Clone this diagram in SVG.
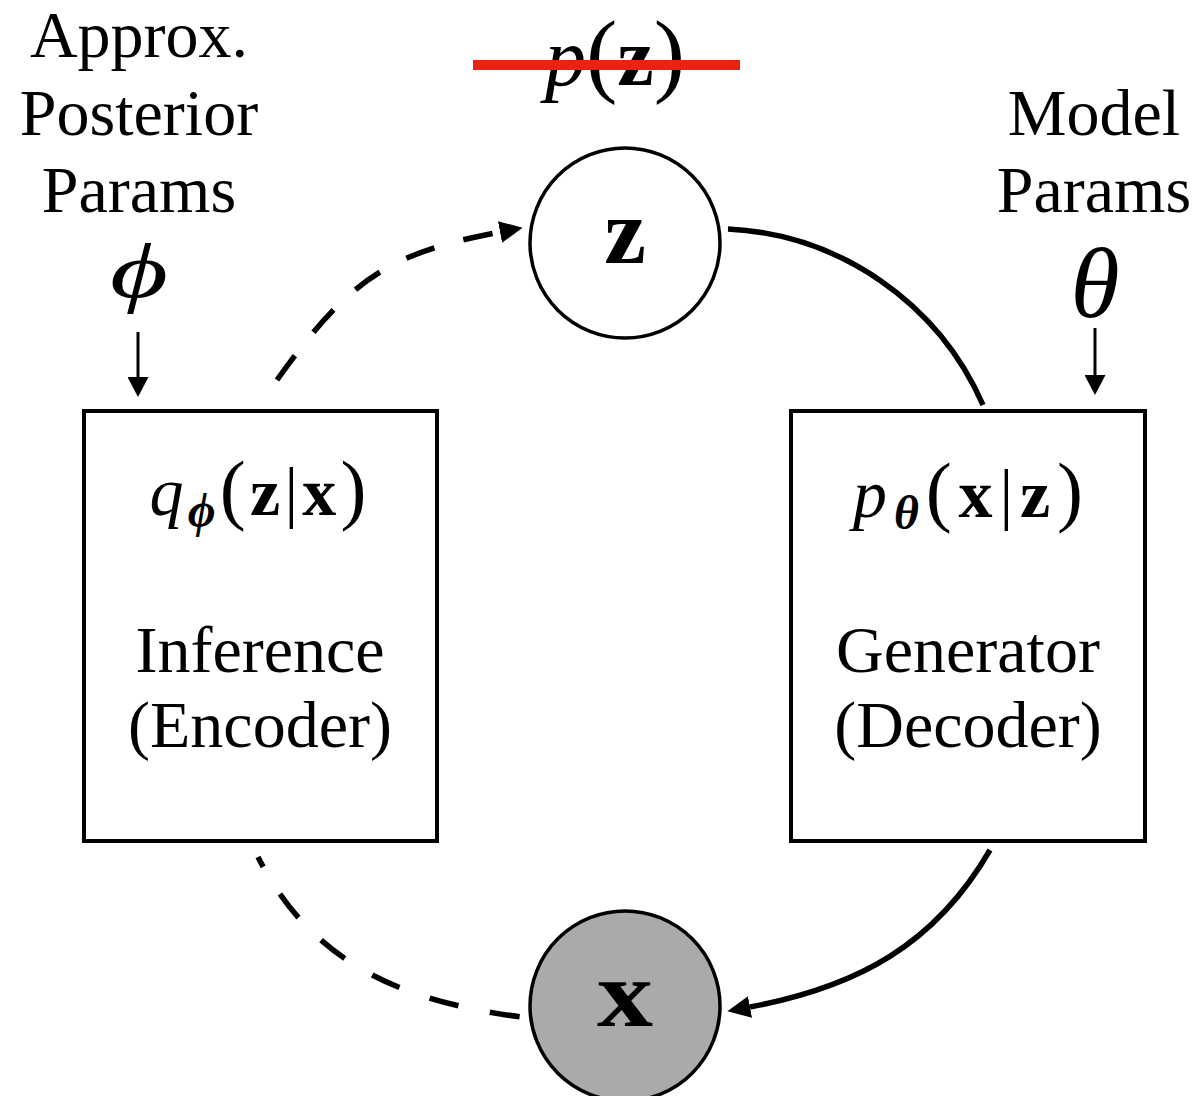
<svg xmlns="http://www.w3.org/2000/svg" width="1198" height="1096" viewBox="0 0 1198 1096">
<style>
text{font-family:"Liberation Serif","DejaVu Serif",serif;fill:#000}
.lbl{font-size:66px;text-anchor:middle}
.math{text-anchor:middle}
.it{font-style:italic}
.bf{font-weight:bold}
.box{fill:#fff;stroke:#000;stroke-width:4}
.node{stroke:#000;stroke-width:3.5}
.con{fill:none;stroke:#000;stroke-width:5.5}
.dash{stroke-dasharray:30 30}
.par{fill:none;stroke:#000;stroke-width:3}
</style>
<defs>
<marker id="ah" viewBox="0 0 23 22" refX="0" refY="11" markerWidth="23" markerHeight="22" orient="auto" markerUnits="userSpaceOnUse">
<path d="M0,0 L23,11 L0,22 z" fill="#000"/>
</marker>
<marker id="ahs" viewBox="0 0 20 21" refX="0" refY="10.5" markerWidth="20" markerHeight="21" orient="auto" markerUnits="userSpaceOnUse">
<path d="M0,0 L20,10.5 L0,21 z" fill="#000"/>
</marker>
</defs>
<rect width="1198" height="1096" fill="#fff"/>

<g id="connectors">
<path class="con dash" d="M277,380 C349,279 389,253 500,232" marker-end="url(#ah)"/>
<path class="con" d="M728,229 A294,294 0 0 1 983,405"/>
<path class="con" d="M990,850 C935,945 857,987 750,1007" marker-end="url(#ah)"/>
<path class="con dash" style="stroke-dasharray:30 32;stroke-dashoffset:19" d="M258,857 C312,964 402,1001 521,1017"/>
<path class="par" d="M138,332 L138,377" marker-end="url(#ahs)"/>
<path class="par" d="M1095,328 L1095,375" marker-end="url(#ahs)"/>
</g>

<g id="prior">
<text class="math" x="615" y="85" font-size="82"><tspan class="it">p</tspan><tspan font-size="94">(</tspan><tspan class="bf">z</tspan><tspan font-size="94">)</tspan></text>
<line x1="473" y1="65" x2="740" y2="65" stroke="#ea2311" stroke-width="10"/>
</g>

<g id="phi-label">
<text class="lbl" x="139" y="57">Approx.</text>
<text class="lbl" x="139" y="135">Posterior</text>
<text class="lbl" x="139" y="212">Params</text>
<text class="math it" x="139" y="297" font-size="78" textLength="58" lengthAdjust="spacingAndGlyphs">ϕ</text>
</g>

<g id="theta-label">
<text class="lbl" x="1094" y="135">Model</text>
<text class="lbl" x="1094" y="212">Params</text>
<text class="math it" x="1095" y="317" font-size="100">θ</text>
</g>

<g id="node-z">
<circle class="node" cx="625" cy="243" r="95" fill="#fff"/>
<text class="math bf" x="625" y="263" font-size="94">z</text>
</g>

<g id="node-x">
<circle class="node" cx="625" cy="1006" r="95" fill="#aaaaaa"/>
<text class="math bf" x="625" y="1026" font-size="96" textLength="56" lengthAdjust="spacingAndGlyphs">x</text>
</g>

<g id="encoder">
<rect class="box" x="84" y="411" width="353" height="430"/>
<text class="math" x="258" y="515" font-size="68" textLength="217" lengthAdjust="spacing"><tspan class="it">q</tspan><tspan class="it bf" font-size="48" dy="12">ϕ</tspan><tspan dy="-12" font-size="78">(</tspan><tspan class="bf">z</tspan>|<tspan class="bf">x</tspan><tspan font-size="78">)</tspan></text>
<text class="lbl" x="260" y="672">Inference</text>
<text class="lbl" x="260" y="747">(Encoder)</text>
</g>

<g id="decoder">
<rect class="box" x="791" y="411" width="354" height="430"/>
<text class="math" x="968" y="517" font-size="68" textLength="230" lengthAdjust="spacing"><tspan class="it">p</tspan><tspan class="it bf" font-size="48" dy="12">θ</tspan><tspan dy="-12" font-size="78">(</tspan><tspan class="bf">x</tspan>|<tspan class="bf">z</tspan><tspan font-size="78">)</tspan></text>
<text class="lbl" x="968" y="672">Generator</text>
<text class="lbl" x="968" y="747">(Decoder)</text>
</g>
</svg>
